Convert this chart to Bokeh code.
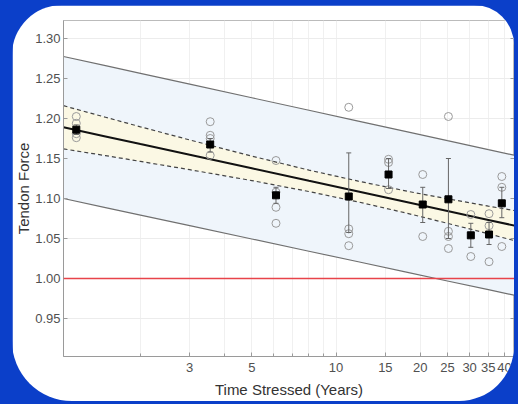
from bokeh.plotting import figure
from bokeh.models import (FixedTicker, Span, LinearAxis, ColumnDataSource, Whisker,
                          Range1d, TeeHead, CustomJSTickFormatter)
from bokeh.layouts import column
from bokeh.embed import file_html
from bokeh.resources import INLINE

# ---- data ----
group_x = [1.18, 3.55, 6.1, 11.1, 15.4, 20.4, 25.2, 30.3, 35.2, 39.1]
group_mean = [1.186, 1.1675, 1.104, 1.1025, 1.130, 1.0925, 1.099, 1.054, 1.055, 1.094]
err_low = [1.180, 1.158, 1.094, 1.0575, 1.1125, 1.070, 1.050, 1.039, 1.0425, 1.076]
err_high = [1.192, 1.175, 1.114, 1.157, 1.150, 1.114, 1.150, 1.069, 1.070, 1.114]

obs_x = [1.18, 1.18, 1.18, 1.18,
         3.55, 3.55, 3.55, 3.55,
         6.1, 6.1, 6.1, 6.1,
         11.1, 11.1, 11.1, 11.1,
         15.4, 15.4, 15.4,
         20.4, 20.4,
         25.2, 25.2, 25.2, 25.2,
         30.3, 30.3,
         35.2, 35.2, 35.2,
         39.1, 39.1, 39.1]
obs_y = [1.2025, 1.194, 1.176, 1.181,
         1.196, 1.179, 1.175, 1.154,
         1.1475, 1.108, 1.089, 1.069,
         1.214, 1.062, 1.056, 1.041,
         1.149, 1.145, 1.111,
         1.130, 1.0525,
         1.2025, 1.059, 1.0525, 1.0375,
         1.080, 1.0275,
         1.081, 1.066, 1.021,
         1.1275, 1.114, 1.040]

band_x = [1.062, 1.5, 2, 3, 5, 8, 12, 18, 25, 35, 43.4]
fit_y = [1.189, 1.1776, 1.168, 1.1546, 1.1377, 1.1221, 1.1087, 1.0952, 1.0843, 1.0732, 1.0661]
conf_upper = [1.216, 1.2016, 1.1896, 1.1732, 1.153, 1.1355, 1.1217, 1.109, 1.0996, 1.0905, 1.0849]
conf_lower = [1.162, 1.1536, 1.1464, 1.136, 1.1224, 1.1087, 1.0957, 1.0814, 1.069, 1.0559, 1.0473]
pred_upper = [1.2775, 1.266, 1.2564, 1.2429, 1.2259, 1.2103, 1.1968, 1.1833, 1.1723, 1.1611, 1.154]
pred_lower = [1.100, 1.0887, 1.0793, 1.0661, 1.0494, 1.0341, 1.0209, 1.0077, 0.9969, 0.9860, 0.979]

x_ticks = [3, 5, 10, 15, 20, 25, 30, 35, 40]
x_minor = [2, 4, 6, 7, 8, 9]
y_ticks = [0.95, 1.00, 1.05, 1.10, 1.15, 1.20, 1.25, 1.30]
reference_level = 1.00

FONT = "Liberation Sans"

p = figure(width=502, height=396, x_axis_type="log",
           x_range=Range1d(1.062, 43.4), y_range=Range1d(0.9025, 1.3225),
           output_backend="svg", toolbar_location=None,
           min_border_left=45, min_border_right=0, min_border_top=15, min_border_bottom=45,
           background_fill_color="white", border_fill_color="white",
           outline_line_color="#bbbbbb")
p.styles = {"border-radius": "50px 40px 55px 60px", "overflow": "hidden"}

# prediction band
p.varea(x=band_x, y1=pred_lower, y2=pred_upper, fill_color="#eff5fb")
p.line(band_x, pred_upper, line_color="#707070", line_width=1.2)
p.line(band_x, pred_lower, line_color="#707070", line_width=1.2)
# confidence band
p.varea(x=band_x, y1=conf_lower, y2=conf_upper, fill_color="#fbf8e4")
p.line(band_x, conf_upper, line_color="#444444", line_width=1.2, line_dash="4 3")
p.line(band_x, conf_lower, line_color="#444444", line_width=1.2, line_dash="4 3")
# fit
p.line(band_x, fit_y, line_color="#111111", line_width=2)

p.add_layout(Span(location=reference_level, dimension="width",
                  line_color="#e8434a", line_width=1.3))

# observations
p.scatter(obs_x, obs_y, marker="circle", size=8, fill_color=None,
          line_color="#9a9a9a", line_width=1)

# error bars
src = ColumnDataSource(dict(x=group_x, lo=err_low, hi=err_high))
w = Whisker(source=src, base="x", lower="lo", upper="hi", level="annotation",
            line_color="#666666", line_width=1,
            upper_head=TeeHead(size=5, line_color="#666666", line_width=1),
            lower_head=TeeHead(size=5, line_color="#666666", line_width=1))
p.add_layout(w)

# means
p.scatter(group_x, group_mean, marker="square", size=7, fill_color="black",
          line_color="black", level="overlay")

# axes
p.xaxis.ticker = FixedTicker(ticks=x_ticks, minor_ticks=x_minor)
p.yaxis.ticker = FixedTicker(ticks=y_ticks, minor_ticks=[])
p.yaxis.formatter = CustomJSTickFormatter(code="return tick.toFixed(2);")
p.xaxis.formatter = CustomJSTickFormatter(code="return tick.toFixed(0);")

for ax in (p.xaxis[0], p.yaxis[0]):
    ax.axis_line_color = "#9a9a9a"
    ax.major_tick_line_color = "#9a9a9a"
    ax.minor_tick_line_color = "#9a9a9a"
    ax.major_tick_in = 4
    ax.major_tick_out = 0
    ax.minor_tick_in = 3
    ax.minor_tick_out = 0
    ax.major_label_text_font = FONT
    ax.major_label_text_font_size = "13px"
    ax.major_label_text_color = "#505050"
    ax.axis_label_text_font = FONT
    ax.axis_label_text_font_size = "15px"
    ax.axis_label_text_font_style = "normal"
    ax.axis_label_text_color = "#333333"

p.xaxis.axis_label = "Time Stressed (Years)"
p.yaxis.axis_label = "Tendon Force"
p.yaxis.major_label_standoff = 3
p.yaxis.axis_label_standoff = 0
p.xaxis.major_label_standoff = 6
p.xaxis.axis_label_standoff = 6

right = LinearAxis(ticker=FixedTicker(ticks=y_ticks, minor_ticks=[]),
                   major_label_text_color=None, axis_line_color="#9a9a9a",
                   major_tick_line_color="#9a9a9a", major_tick_in=4, major_tick_out=0,
                   minor_tick_line_color=None, major_label_standoff=0)
p.add_layout(right, "right")

p.xgrid.ticker = FixedTicker(ticks=x_minor + x_ticks)
p.xgrid.grid_line_color = "#f0f0f0"
p.ygrid.grid_line_color = "#ececec"

layout = column(p, styles={"background-color": "#0b3fc9",
                           "padding": "5px 4px 3px 12px"})

open("out.html", "w").write(file_html(layout, INLINE))
